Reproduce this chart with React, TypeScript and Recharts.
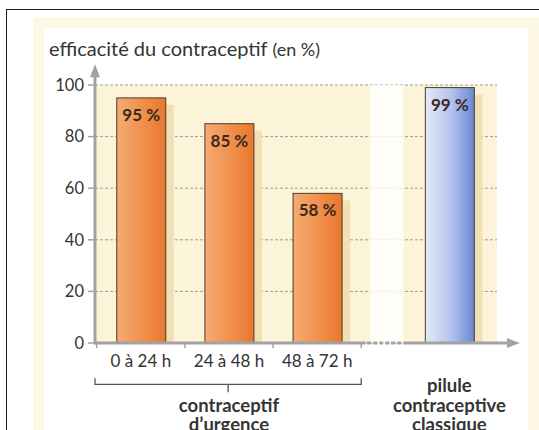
import React from "react";
import {
  ComposedChart,
  Bar,
  XAxis,
  YAxis,
  CartesianGrid,
  ReferenceLine,
  ReferenceArea,
  LabelList,
} from "recharts";

// ---------- data ----------
const categories = ["0 à 24 h", "24 à 48 h", "48 à 72 h", "pilule contraceptive classique"];
const efficacy = [95, 85, 58, 99];
// category slot index (the pill bar sits after a half-slot gap)
const slots = [0, 1, 2, 3.5];
const kinds = ["urgence", "urgence", "urgence", "pilule"];

const yTicks = [0, 20, 40, 60, 80, 100];
const tickLabels = ["0 à 24 h", "24 à 48 h", "48 à 72 h"];
const labelSlots = [0, 1, 2];
const boundarySlots = [-0.5, 0.5, 1.5, 2.5];
const groupLabels = [
  ["contraceptif", "d\u2019urgence"],
  ["pilule", "contraceptive", "classique"],
];
const groupSlots = [1, 3.5];
const titleMain = "efficacité du contraceptif";
const titleUnit = "(en %)";

const data = categories.map((c, i) => ({
  name: c,
  slot: slots[i],
  value: efficacy[i],
  kind: kinds[i],
}));

// ---------- layout / style constants ----------
const X_DOMAIN: [number, number] = [-0.52, 4.04];
const GAP_START = 2.6;
const GAP_END = 2.98;
const AXIS_END = 4.3;
const Y_ARROW_TOP = 108;
const BRACKET_LEVEL = -16;
const AXIS_GRAY = "#a2a2a2";
const TEXT = "#343434";
const FONT = "Lato, 'Open Sans', sans-serif";

const BarShape = (props: any) => {
  const { x, y, width, height, payload } = props;
  if (!height || height <= 0) return null;
  const grad = payload.kind === "pilule" ? "url(#gradBlue)" : "url(#gradOrange)";
  return (
    <g>
      <rect x={x + 8} y={y + 7} width={width} height={height - 7} fill="#f1e0b4" />
      <rect x={x} y={y} width={width} height={height} fill={grad} stroke="#4d3a2c" strokeWidth={1} />
    </g>
  );
};

const MarkTick = (props: any) => {
  const { x, y } = props;
  return <line x1={x} y1={y} x2={x} y2={y + 5} stroke={AXIS_GRAY} strokeWidth={1.5} />;
};

const LabelTick = (props: any) => {
  const { x, y, index } = props;
  return (
    <text x={x} y={y + 17.5} textAnchor="middle" fontSize={17} fill={TEXT} fontFamily={FONT}>
      {tickLabels[index]}
    </text>
  );
};

const GroupTick = (props: any) => {
  const { x, y, index } = props;
  const lines = groupLabels[index] || [];
  const n = lines.length;
  return (
    <text textAnchor="middle" fontSize={18.5} fontWeight={700} fill={TEXT} fontFamily={FONT}>
      {lines.map((l, i) => (
        <tspan key={i} x={x} y={y + 60 - 19.5 * (n - 1 - i)}>
          {l}
        </tspan>
      ))}
    </text>
  );
};

const YArrow = (p: any) => {
  const { x1, y1, x2, y2 } = p;
  const head = 13;
  return (
    <g>
      <line x1={x1} y1={y1 + 1.5} x2={x2} y2={y2 + head - 1} stroke={AXIS_GRAY} strokeWidth={3} />
      <polygon points={`${x2},${y2} ${x2 - 5},${y2 + head} ${x2 + 5},${y2 + head}`} fill={AXIS_GRAY} />
    </g>
  );
};

const XLine = (p: any) => {
  const { x1, y1, x2, y2 } = p;
  return <line x1={x1} y1={y1} x2={x2} y2={y2} stroke={AXIS_GRAY} strokeWidth={3} />;
};

const XDashed = (p: any) => {
  const { x1, y1, x2, y2 } = p;
  return <line x1={x1} y1={y1} x2={x2} y2={y2} stroke={AXIS_GRAY} strokeWidth={3} strokeDasharray="4 2" />;
};

const XArrow = (p: any) => {
  const { x1, y1, x2, y2 } = p;
  const head = 13;
  return (
    <g>
      <line x1={x1} y1={y1} x2={x2 - head + 1} y2={y2} stroke={AXIS_GRAY} strokeWidth={3} />
      <polygon points={`${x2},${y2} ${x2 - head},${y2 - 5} ${x2 - head},${y2 + 5}`} fill={AXIS_GRAY} />
    </g>
  );
};

const Bracket = (p: any) => {
  const { x1, y1, x2 } = p;
  const mid = (x1 + x2) / 2;
  return (
    <path
      d={`M${x1},${y1 - 6} L${x1},${y1} L${x2},${y1} L${x2},${y1 - 6} M${mid},${y1} L${mid},${y1 + 8}`}
      fill="none"
      stroke="#555"
      strokeWidth={1.3}
    />
  );
};

export default function App() {
  return (
    <div
      style={{
        position: "absolute",
        left: 0,
        top: 0,
        width: 539,
        height: 430,
        background: "#fff",
        overflow: "hidden",
        fontFamily: FONT,
      }}
    >
      {/* frame lines */}
      <div
        style={{
          position: "absolute",
          left: 6,
          top: 9,
          width: 540,
          height: 430,
          borderLeft: "1px solid #1c1c1c",
          borderTop: "1px solid #1c1c1c",
        }}
      />
      {/* pale yellow decorative band */}
      <div
        style={{
          position: "absolute",
          left: 33,
          top: 17,
          width: 506,
          height: 430,
          border: "11px solid #fdf8e6",
          boxSizing: "border-box",
        }}
      />
      <div
        style={{
          position: "absolute",
          left: 49,
          top: 38,
          fontSize: 20,
          lineHeight: "20px",
          color: TEXT,
          whiteSpace: "nowrap",
        }}
      >
        {titleMain} <span style={{ fontSize: 18 }}>{titleUnit}</span>
      </div>
      <div style={{ position: "absolute", left: 0, top: 0 }}>
        <ComposedChart
          width={539}
          height={430}
          data={data}
          margin={{ top: 85, right: 42, bottom: 0, left: 45 }}
          style={{ fontFamily: FONT }}
        >
          <defs>
            <linearGradient id="gradOrange" x1="0" y1="0" x2="1" y2="0">
              <stop offset="0%" stopColor="#f5ac72" />
              <stop offset="55%" stopColor="#f08f4a" />
              <stop offset="100%" stopColor="#e8772f" />
            </linearGradient>
            <linearGradient id="gradBlue" x1="0" y1="0" x2="1" y2="0">
              <stop offset="0%" stopColor="#e6ebf9" />
              <stop offset="55%" stopColor="#b2c0ec" />
              <stop offset="100%" stopColor="#6a87d4" />
            </linearGradient>
          </defs>
          <CartesianGrid
            xAxisId="x"
            vertical={false}
            stroke="#9c9c9c"
            strokeDasharray="3 2"
            fill="#fcf4d8"
            fillOpacity={1}
          />
          <ReferenceArea
            xAxisId="x"
            x1={GAP_START}
            x2={GAP_END}
            y1={0}
            y2={100}
            fill="#ffffff"
            fillOpacity={0.8}
            stroke="none"
            ifOverflow="visible"
          />
          <XAxis
            xAxisId="z"
            type="number"
            dataKey="slot"
            domain={X_DOMAIN}
            allowDataOverflow
            ticks={groupSlots}
            interval={0}
            axisLine={false}
            tickLine={false}
            tickSize={0}
            tickMargin={0}
            height={59}
            tick={<GroupTick />}
          />
          <XAxis
            xAxisId="y"
            type="number"
            dataKey="slot"
            domain={X_DOMAIN}
            allowDataOverflow
            ticks={labelSlots}
            interval={0}
            axisLine={false}
            tickLine={false}
            tickSize={0}
            tickMargin={0}
            height={22}
            tick={<LabelTick />}
          />
          <XAxis
            xAxisId="x"
            type="number"
            dataKey="slot"
            domain={X_DOMAIN}
            allowDataOverflow
            ticks={boundarySlots}
            interval={0}
            axisLine={false}
            tickLine={false}
            tickSize={0}
            tickMargin={0}
            height={6}
            tick={<MarkTick />}
          />
          <YAxis
            type="number"
            domain={[0, 100]}
            ticks={yTicks}
            interval={0}
            allowDataOverflow
            width={50}
            axisLine={false}
            tickLine={{ stroke: AXIS_GRAY, strokeWidth: 1.5 }}
            tickSize={7}
            tickMargin={4}
            tick={{ fill: TEXT, fontSize: 16.5, fontFamily: FONT }}
          />
          <Bar
            xAxisId="x"
            dataKey="value"
            barSize={49}
            shape={<BarShape />}
            isAnimationActive={false}
          >
            <LabelList
              dataKey="value"
              position="insideTop"
              offset={11}
              formatter={(v: any) => `${v} %`}
              style={{ fontWeight: 700, fontSize: 17, fill: "#3a2a1e", fontFamily: FONT }}
            />
          </Bar>
          <ReferenceLine
            xAxisId="x"
            segment={[
              { x: X_DOMAIN[0], y: 0 },
              { x: boundarySlots[3], y: 0 },
            ]}
            ifOverflow="visible"
            shape={XLine}
          />
          <ReferenceLine
            xAxisId="x"
            segment={[
              { x: boundarySlots[3], y: 0 },
              { x: GAP_END, y: 0 },
            ]}
            ifOverflow="visible"
            shape={XDashed}
          />
          <ReferenceLine
            xAxisId="x"
            segment={[
              { x: GAP_END, y: 0 },
              { x: AXIS_END, y: 0 },
            ]}
            ifOverflow="visible"
            shape={XArrow}
          />
          <ReferenceLine
            xAxisId="x"
            segment={[
              { x: X_DOMAIN[0], y: 0 },
              { x: X_DOMAIN[0], y: Y_ARROW_TOP },
            ]}
            ifOverflow="visible"
            shape={YArrow}
          />
          <ReferenceLine
            xAxisId="x"
            segment={[
              { x: X_DOMAIN[0], y: BRACKET_LEVEL },
              { x: boundarySlots[3], y: BRACKET_LEVEL },
            ]}
            ifOverflow="visible"
            shape={Bracket}
          />
        </ComposedChart>
      </div>
    </div>
  );
}
